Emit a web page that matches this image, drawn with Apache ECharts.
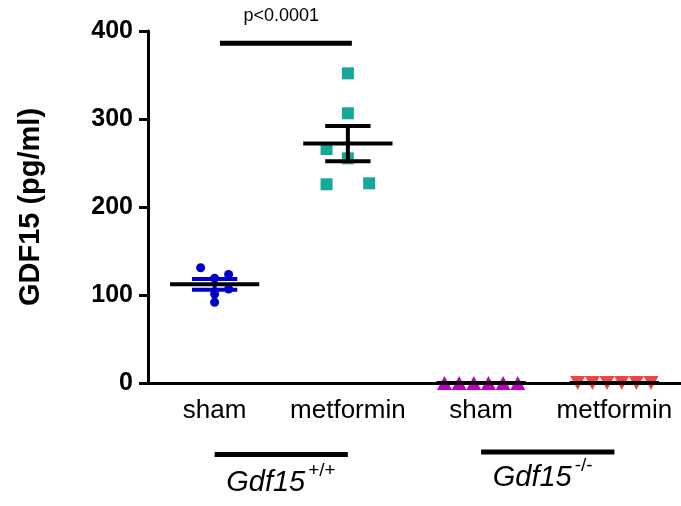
<!DOCTYPE html>
<html>
<head>
<meta charset="utf-8">
<script src="https://cdn.jsdelivr.net/npm/echarts@6/dist/echarts.min.js"></script>
<style>
  html, body { margin: 0; padding: 0; background: #fff; }
  #chart { width: 681px; height: 506px; }
</style>
</head>
<body>
<div id="chart"></div>
<script>
// GDF15 (pg/ml) per mouse, four groups
const groups = ['sham', 'metformin', 'sham', 'metformin'];
const wtSham = [131.0, 119.0, 123.3, 101.1, 91.7, 106.8];
const wtMetformin = [351.9, 306.5, 265.9, 255.3, 225.8, 226.9];
const koSham = [0, 0, 0, 0, 0, 0];
const koMetformin = [0, 0, 0, 0, 0, 0];
const genotypes = ['Gdf15', 'Gdf15'];
const genotypeSup = ['+/+', '-/-'];
const pText = 'p<0.0001';
const pLevel = 386;

// dot-plot column slots (points spread sideways so they don't overlap)
const slots = [
  [-1, 0, 1, 0, 0, 1],
  [0, 0, -1, 0, -1, 1],
  [-2.5, -1.5, -0.5, 0.5, 1.5, 2.5],
  [-2.5, -1.5, -0.5, 0.5, 1.5, 2.5]
];
const slotWidth = [0.105, 0.16, 0.11, 0.11];

const values = [wtSham, wtMetformin, koSham, koMetformin];
const colors = ['#0000c8', '#16a99b', '#c000c0', '#f44343'];
const errColors = ['#0000c8', '#000', '#000', '#000'];
const symbols = ['circle', 'rect', 'triangle', 'triangle'];
const symbolSizes = [9, 12, [15, 14], [15, 14]];
const symbolRotates = [0, 0, 0, 180];

const font = 'Liberation Sans, Arial, Helvetica, sans-serif';

function meanSem(arr) {
  const n = arr.length;
  const m = arr.reduce((a, b) => a + b, 0) / n;
  const v = arr.reduce((a, b) => a + (b - m) * (b - m), 0) / (n - 1);
  return [m, Math.sqrt(v) / Math.sqrt(n)];
}

const chart = echarts.init(document.getElementById('chart'));

const scatterSeries = values.map((arr, g) => ({
  type: 'scatter',
  xAxisIndex: 1,
  symbol: symbols[g],
  symbolSize: symbolSizes[g],
  symbolRotate: symbolRotates[g],
  itemStyle: { color: colors[g], opacity: 1 },
  z: 3,
  data: arr.map((v, k) => [g + slots[g][k] * slotWidth[g], v])
}));

const statData = values.map((arr, g) => [g].concat(meanSem(arr)));

const option = {
  animation: false,
  grid: { left: 148, right: 0, top: 31, bottom: 123 },
  xAxis: [{
    type: 'category',
    data: groups,
    boundaryGap: true,
    axisLine: { onZero: false, lineStyle: { color: '#000', width: 3 } },
    axisTick: { alignWithLabel: true, length: 9, lineStyle: { color: '#000', width: 3 } },
    axisLabel: { interval: 0, hideOverlap: false, color: '#000', fontFamily: font, fontSize: 26, margin: 15 },
    splitLine: { show: false }
  }, {
    type: 'value',
    min: -0.5,
    max: 3.5,
    show: false
  }],
  yAxis: {
    type: 'value',
    min: 0,
    max: 400,
    interval: 100,
    name: 'GDF15 (pg/ml)',
    nameLocation: 'middle',
    nameRotate: 90,
    nameGap: 103,
    nameTextStyle: { color: '#000', fontFamily: font, fontSize: 29, fontWeight: 'bold' },
    axisLine: { show: true, onZero: false, lineStyle: { color: '#000', width: 3 } },
    axisTick: { show: true, length: 9, lineStyle: { color: '#000', width: 3 } },
    axisLabel: { color: '#000', fontFamily: font, fontSize: 25, fontWeight: 'bold', margin: 15 },
    splitLine: { show: false }
  },
  series: scatterSeries.concat([{
    type: 'custom',
    xAxisIndex: 1,
    z: 4,
    data: statData,
    renderItem(params, api) {
      const i = api.value(0), m = api.value(1), s = api.value(2);
      const c = api.coord([i, m]);
      const top = api.coord([i, m + s])[1];
      const bot = api.coord([i, m - s])[1];
      const unit = api.size([1, 0])[0];
      const hw = unit * 0.335, cw = unit * 0.17;
      const ec = errColors[params.dataIndex];
      const ln = (x1, y1, x2, y2, col) => ({
        type: 'line', shape: { x1, y1, x2, y2 }, style: { stroke: col, lineWidth: 4 }
      });
      return {
        type: 'group',
        children: [
          ln(c[0], top, c[0], bot, ec),
          ln(c[0] - cw, top, c[0] + cw, top, ec),
          ln(c[0] - cw, bot, c[0] + cw, bot, ec),
          ln(c[0] - hw, c[1], c[0] + hw, c[1], '#000')
        ]
      };
    }
  }, {
    type: 'line',
    xAxisIndex: 1,
    symbol: 'none',
    lineStyle: { color: '#000', width: 5 },
    data: [[0.04, pLevel], [1.03, pLevel]],
    z: 4
  }])
};
chart.setOption(option);

// annotations below the axis, placed from the category positions
const px = v => chart.convertToPixel({ xAxisIndex: 1 }, v);
const barY = [452, 449.5];
const labY = [483, 478];
const supY = [471, 466];
const graphic = [{
  type: 'text',
  x: px(0.5),
  y: 16,
  style: { text: pText, fontFamily: font, fontSize: 18, fill: '#000', align: 'center', verticalAlign: 'middle' }
}];
[0, 1].forEach(k => {
  const a = px(2 * k), b = px(2 * k + 1);
  const mid = (a + b) / 2;
  graphic.push({
    type: 'rect',
    shape: { x: a, y: barY[k], width: b - a, height: 5 },
    style: { fill: '#000' }
  });
  graphic.push({
    type: 'text',
    x: mid + 24,
    y: labY[k],
    style: { text: genotypes[k], fontFamily: font, fontSize: 29, fontStyle: 'italic', fill: '#000', align: 'right', verticalAlign: 'middle' }
  });
  graphic.push({
    type: 'text',
    x: mid + 27,
    y: supY[k],
    style: { text: genotypeSup[k], fontFamily: font, fontSize: 19, fill: '#000', align: 'left', verticalAlign: 'middle' }
  });
});
chart.setOption({ graphic });
</script>
</body>
</html>
